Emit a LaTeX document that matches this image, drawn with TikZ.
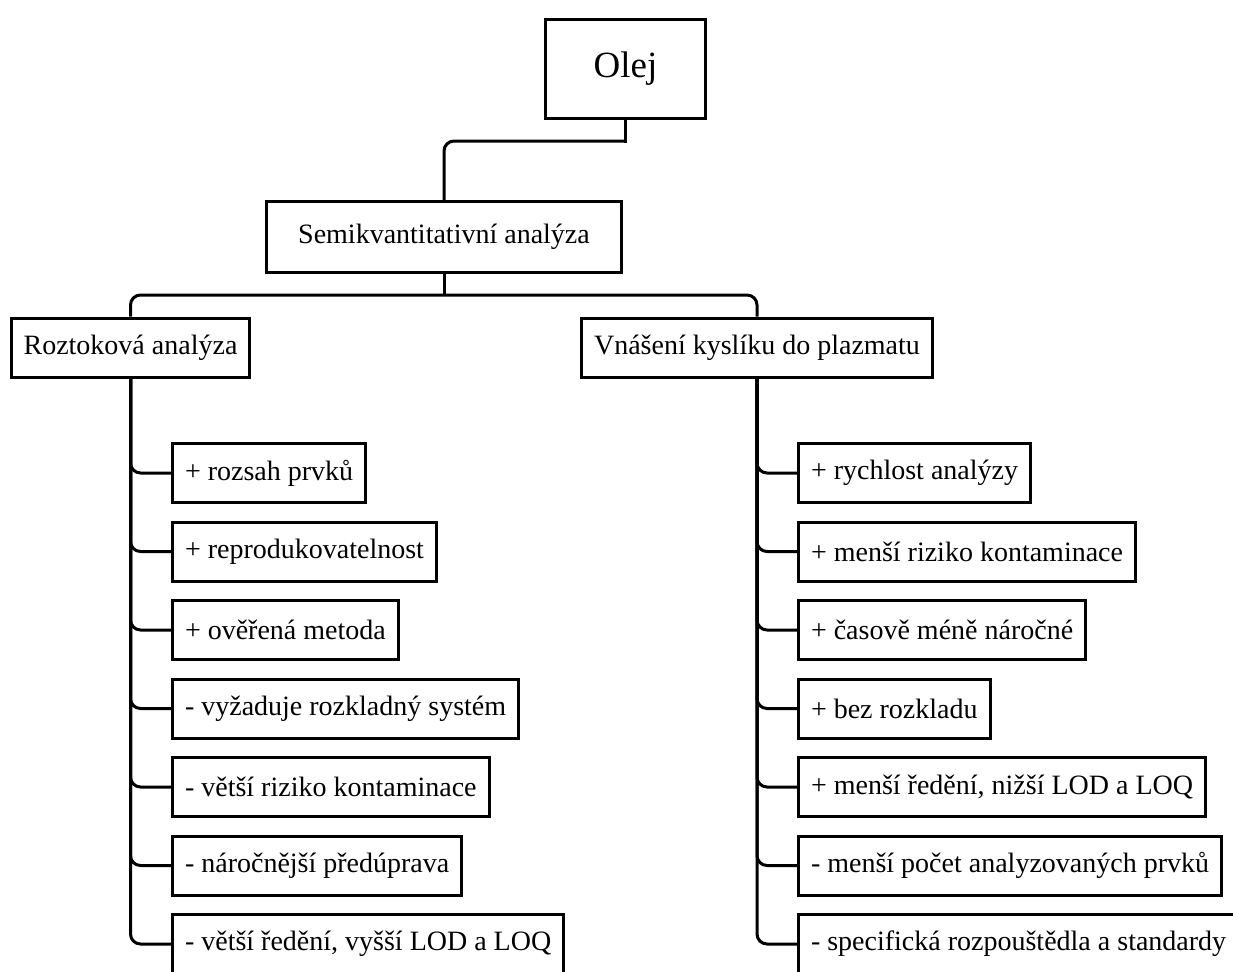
\documentclass[tikz,border=0pt]{standalone}
\usepackage{fontspec}
\setmainfont{Liberation Serif}
\usetikzlibrary{positioning}

\begin{document}
\begin{tikzpicture}[x=1pt,y=-1pt,line width=3pt,node distance=16.5pt,
                    main box/.style={rectangle,draw,minimum height=59pt,inner xsep=12.5pt,
                                     font=\fontsize{28}{32}\selectfont},
                    item box/.style={main box,anchor=west}]
  \useasboundingbox (0,0) rectangle (1233,971);
  \node[main box,minimum width=160pt,minimum height=99pt,font=\fontsize{37}{42}\selectfont] (olej) at (625.5,69) {Olej};
  \node[main box,minimum width=355pt,minimum height=71pt] (semi) at (444,237) {Semikvantitativní analýza};
  \node[main box] (roz) at (130.5,347.5) {Roztoková analýza};
  \node[main box] (vna) at (757,347.5) {Vnášení kyslíku do plazmatu};
% left list
  \node[item box] (r1) at (171,473) {+ rozsah prvků};
  \node[item box,below=of r1.south west,anchor=north west] (r2) {+ reprodukovatelnost};
  \node[item box,below=of r2.south west,anchor=north west] (r3) {+ ověřená metoda};
  \node[item box,below=of r3.south west,anchor=north west] (r4) {- vyžaduje rozkladný systém};
  \node[item box,below=of r4.south west,anchor=north west] (r5) {- větší riziko kontaminace};
  \node[item box,below=of r5.south west,anchor=north west] (r6) {- náročnější předúprava};
  \node[item box,below=of r6.south west,anchor=north west] (r7) {- větší ředění, vyšší LOD a LOQ};
% right list
  \node[item box] (v1) at (797,473) {+ rychlost analýzy};
  \node[item box,below=of v1.south west,anchor=north west] (v2) {+ menší riziko kontaminace};
  \node[item box,below=of v2.south west,anchor=north west] (v3) {+ časově méně náročné};
  \node[item box,below=of v3.south west,anchor=north west] (v4) {+ bez rozkladu};
  \node[item box,below=of v4.south west,anchor=north west] (v5) {+ menší ředění, nižší LOD a LOQ};
  \node[item box,below=of v5.south west,anchor=north west] (v6) {- menší počet analyzovaných prvků};
  \node[item box,below=of v6.south west,anchor=north west] (v7) {- specifická rozpouštědla a standardy};
% connectors
  \draw[line cap=rect] (olej.south) -- ++(0,21) coordinate (j1);
  \draw[rounded corners=10pt] (j1) -| (semi.north);
  \draw (semi.south) -- ++(0,21) coordinate (j2);
  \draw[rounded corners=10pt] (roz.north) |- (j2) -| (vna.north);
  \foreach \i in {1,...,7} {
    \draw[rounded corners=10pt] (roz.south) |- (r\i.west);
    \draw[rounded corners=10pt] (vna.south) |- (v\i.west);
  }
\end{tikzpicture}
\end{document}
